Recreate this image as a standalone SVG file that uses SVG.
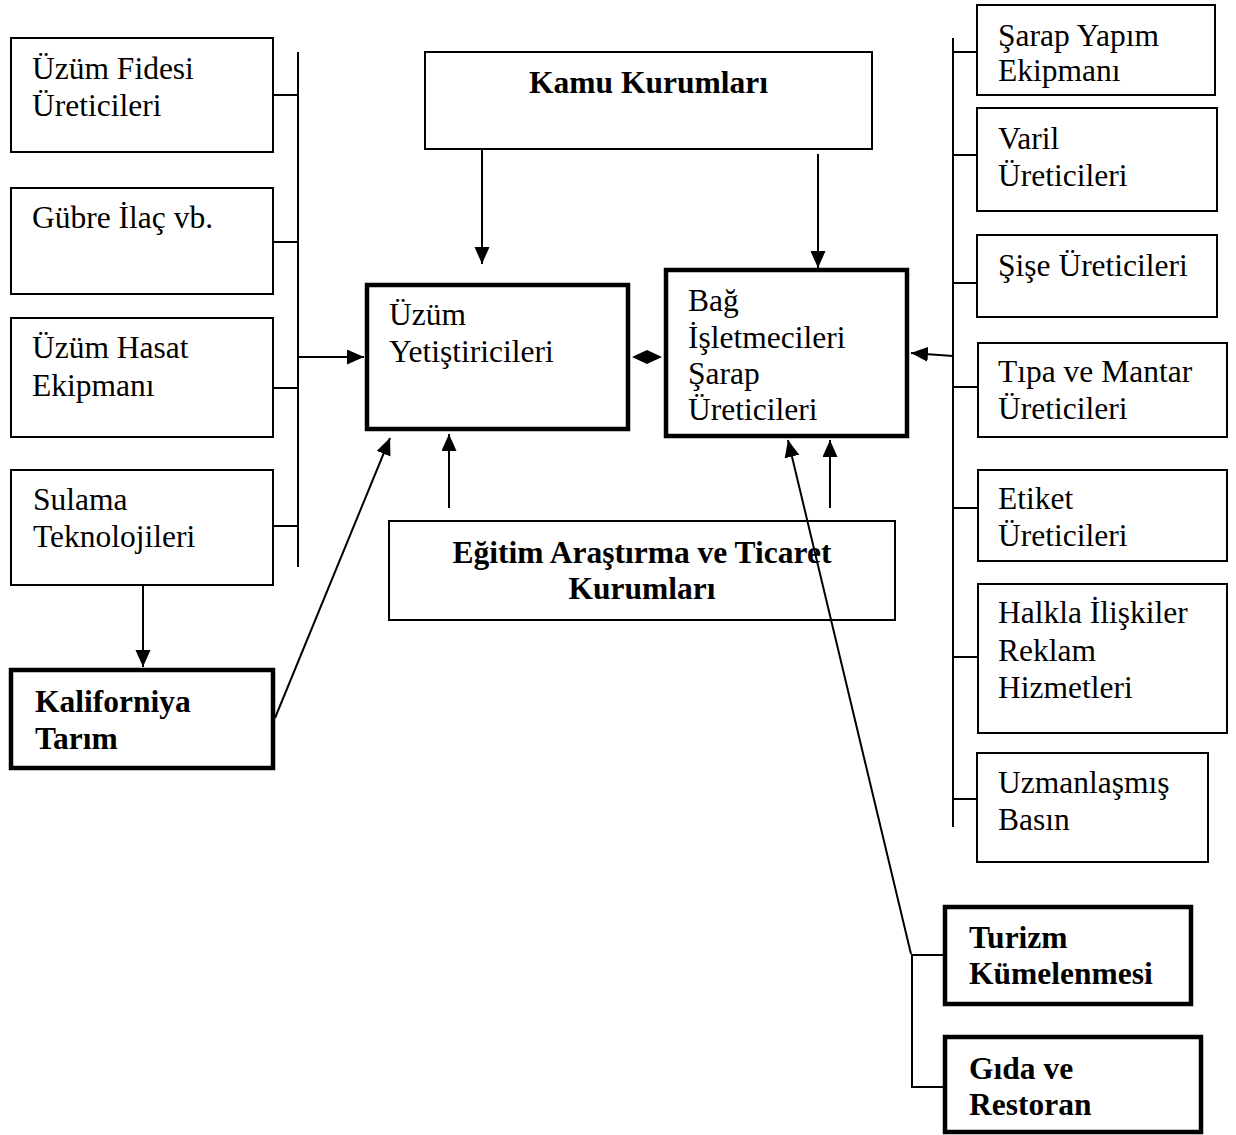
<svg xmlns="http://www.w3.org/2000/svg" width="1236" height="1135" viewBox="0 0 1236 1135">
  <defs>
    <style>
      .box { fill: #fff; stroke: #000; stroke-width: 2; }
      .bold-box { fill: #fff; stroke: #000; stroke-width: 4.5; }
      .t { font-family: "Liberation Serif", "Times New Roman", serif; font-size: 31.5px; fill: #000; }
      .tb { font-family: "Liberation Serif", "Times New Roman", serif; font-size: 31.5px; font-weight: bold; fill: #000; }
      .c { text-anchor: middle; }
      .ln { stroke: #000; stroke-width: 2; fill: none; }
      .arr { stroke: #000; stroke-width: 2; fill: none; marker-end: url(#head); }
    </style>
    <marker id="head" markerUnits="userSpaceOnUse" markerWidth="19" markerHeight="16" refX="17" refY="7.5" orient="auto">
      <path d="M0,0 L17,7.5 L0,15 Z" fill="#000"/>
    </marker>
  </defs>
  <rect width="1236" height="1135" fill="#fff"/>

  <!-- left column -->
  <g id="n-fidan">
    <rect class="box" x="11" y="38" width="262" height="114"/>
    <text class="t" x="32" y="79">Üzüm Fidesi</text>
    <text class="t" x="32" y="116">Üreticileri</text>
  </g>
  <g id="n-gubre">
    <rect class="box" x="11" y="188" width="262" height="106"/>
    <text class="t" x="32" y="228">Gübre İlaç vb.</text>
  </g>
  <g id="n-hasat">
    <rect class="box" x="11" y="318" width="262" height="119"/>
    <text class="t" x="32" y="358">Üzüm Hasat</text>
    <text class="t" x="32" y="396">Ekipmanı</text>
  </g>
  <g id="n-sulama">
    <rect class="box" x="11" y="470" width="262" height="115"/>
    <text class="t" x="33" y="510">Sulama</text>
    <text class="t" x="33" y="547">Teknolojileri</text>
  </g>
  <g id="n-kaliforniya">
    <rect class="bold-box" x="11" y="670" width="262" height="98"/>
    <text class="tb" x="35" y="712">Kaliforniya</text>
    <text class="tb" x="35" y="749">Tarım</text>
  </g>

  <!-- centre -->
  <g id="n-kamu">
    <rect class="box" x="425" y="52" width="447" height="97"/>
    <text class="tb c" x="648.5" y="93">Kamu Kurumları</text>
  </g>
  <g id="n-uzum">
    <rect class="bold-box" x="367" y="285" width="261" height="144"/>
    <text class="t" x="389" y="325">Üzüm</text>
    <text class="t" x="389" y="362">Yetiştiricileri</text>
  </g>
  <g id="n-bag">
    <rect class="bold-box" x="666" y="270" width="241" height="166"/>
    <text class="t" x="688" y="311">Bağ</text>
    <text class="t" x="688" y="347.5">İşletmecileri</text>
    <text class="t" x="688" y="384">Şarap</text>
    <text class="t" x="688" y="420">Üreticileri</text>
  </g>
  <g id="n-egitim">
    <rect class="box" x="389" y="521" width="506" height="99"/>
    <text class="tb c" x="642" y="563">Eğitim Araştırma ve Ticaret</text>
    <text class="tb c" x="642" y="599">Kurumları</text>
  </g>

  <!-- right column -->
  <g id="n-ekipman">
    <rect class="box" x="977" y="5" width="238" height="90"/>
    <text class="t" x="998" y="46">Şarap Yapım</text>
    <text class="t" x="998" y="81">Ekipmanı</text>
  </g>
  <g id="n-varil">
    <rect class="box" x="977" y="108" width="240" height="103"/>
    <text class="t" x="998" y="149">Varil</text>
    <text class="t" x="998" y="186">Üreticileri</text>
  </g>
  <g id="n-sise">
    <rect class="box" x="977" y="235" width="240" height="82"/>
    <text class="t" x="998" y="276">Şişe Üreticileri</text>
  </g>
  <g id="n-tipa">
    <rect class="box" x="978" y="343" width="249" height="94"/>
    <text class="t" x="998" y="382">Tıpa ve Mantar</text>
    <text class="t" x="998" y="419">Üreticileri</text>
  </g>
  <g id="n-etiket">
    <rect class="box" x="978" y="470" width="249" height="91"/>
    <text class="t" x="998" y="509">Etiket</text>
    <text class="t" x="998" y="546">Üreticileri</text>
  </g>
  <g id="n-halkla">
    <rect class="box" x="978" y="584" width="249" height="149"/>
    <text class="t" x="998" y="623">Halkla İlişkiler</text>
    <text class="t" x="998" y="661">Reklam</text>
    <text class="t" x="998" y="698">Hizmetleri</text>
  </g>
  <g id="n-basin">
    <rect class="box" x="977" y="753" width="231" height="109"/>
    <text class="t" x="998" y="793">Uzmanlaşmış</text>
    <text class="t" x="998" y="830">Basın</text>
  </g>

  <!-- bottom right -->
  <g id="n-turizm">
    <rect class="bold-box" x="945" y="907" width="246" height="97"/>
    <text class="tb" x="969" y="948">Turizm</text>
    <text class="tb" x="969" y="984">Kümelenmesi</text>
  </g>
  <g id="n-gida">
    <rect class="bold-box" x="945" y="1037" width="256" height="95"/>
    <text class="tb" x="969" y="1079">Gıda ve</text>
    <text class="tb" x="969" y="1115">Restoran</text>
  </g>

  <!-- connectors, drawn last so the long tourism link passes over the education box -->
  <g id="connectors">
    <!-- left supplier bus -->
    <line class="ln" x1="298" y1="52" x2="298" y2="567"/>
    <line class="ln" x1="273" y1="95" x2="298" y2="95"/>
    <line class="ln" x1="273" y1="242" x2="298" y2="242"/>
    <line class="ln" x1="273" y1="388" x2="298" y2="388"/>
    <line class="ln" x1="273" y1="526" x2="298" y2="526"/>
    <line class="arr" x1="298" y1="357" x2="364" y2="357"/>
    <!-- irrigation to agriculture -->
    <line class="arr" x1="143" y1="585" x2="143" y2="667"/>
    <!-- agriculture to growers -->
    <line class="arr" x1="275" y1="718" x2="390" y2="438"/>
    <!-- public bodies -->
    <line class="arr" x1="482" y1="149" x2="482" y2="264"/>
    <line class="arr" x1="818" y1="154" x2="818" y2="268"/>
    <!-- education / research -->
    <line class="arr" x1="449" y1="508" x2="449" y2="434"/>
    <line class="arr" x1="830" y1="508" x2="830" y2="440"/>
    <!-- growers <-> wineries -->
    <polygon points="632,357 647,350 662,357 647,364" fill="#000"/>
    <!-- right supplier bus -->
    <line class="ln" x1="953" y1="38" x2="953" y2="827"/>
    <line class="ln" x1="953" y1="52" x2="977" y2="52"/>
    <line class="ln" x1="953" y1="155" x2="977" y2="155"/>
    <line class="ln" x1="953" y1="283" x2="977" y2="283"/>
    <line class="ln" x1="953" y1="387" x2="978" y2="387"/>
    <line class="ln" x1="953" y1="508" x2="978" y2="508"/>
    <line class="ln" x1="953" y1="657" x2="978" y2="657"/>
    <line class="ln" x1="953" y1="799" x2="977" y2="799"/>
    <line class="arr" x1="953" y1="356" x2="911" y2="353"/>
    <!-- tourism / food bracket -->
    <line class="arr" x1="911" y1="954" x2="788" y2="440"/>
    <polyline class="ln" points="943,955 912,955 912,1087 943,1087"/>
  </g>
</svg>
